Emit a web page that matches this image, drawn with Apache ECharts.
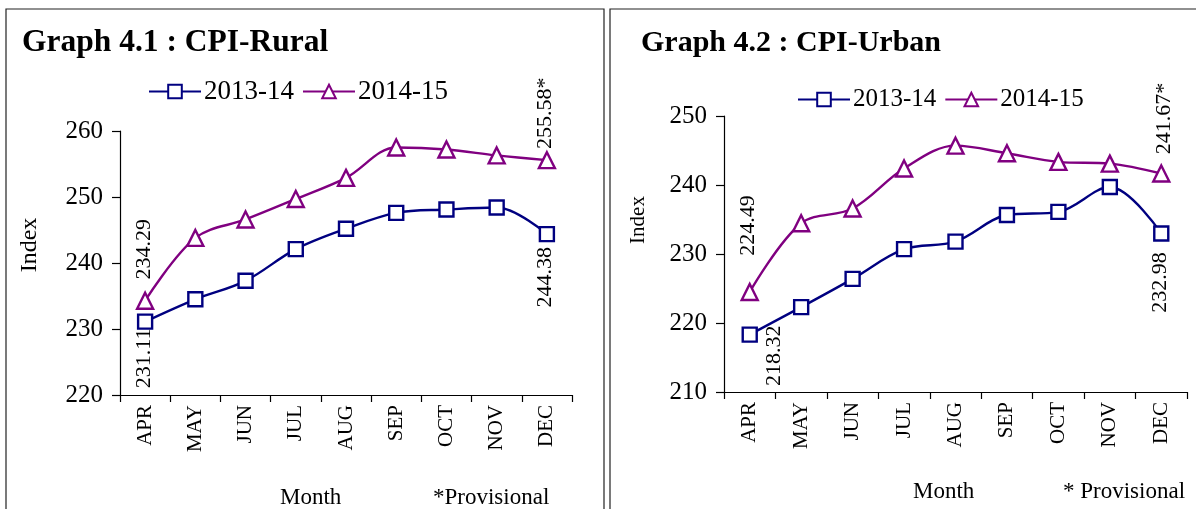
<!DOCTYPE html>
<html>
<head>
<meta charset="utf-8">
<title>CPI Rural / Urban</title>
<script src="https://cdn.jsdelivr.net/npm/echarts@6/dist/echarts.min.js"></script>
<style>
  html, body { margin: 0; padding: 0; background: #fff; }
  #main { width: 1196px; height: 509px; }
</style>
</head>
<body>
<div id="main"></div>
<script>
// data
var months = ['APR', 'MAY', 'JUN', 'JUL', 'AUG', 'SEP', 'OCT', 'NOV', 'DEC'];
var seriesNames = ['2013-14', '2014-15'];

var rural1314 = [231.11, 234.5, 237.3, 242.1, 245.2, 247.6, 248.1, 248.4, 244.38];
var rural1415 = [234.29, 243.8, 246.6, 249.7, 252.9, 257.5, 257.2, 256.3, 255.58];
var urban1314 = [218.32, 222.3, 226.4, 230.7, 231.8, 235.65, 236.1, 239.7, 232.98];
var urban1415 = [224.49, 234.45, 236.6, 242.4, 245.7, 244.6, 243.35, 243.1, 241.67];

var ruralTicks = { min: 220, max: 260, step: 10 };
var urbanTicks = { min: 210, max: 250, step: 10 };

var NAVY = '#000080';
var PURPLE = '#800080';
var FONT = '"Liberation Serif", "Times New Roman", serif';
var SQ = 14;   // square marker size
var TRI = 16;  // triangle marker size

// rotated value label placed relative to the point (dx, dy in px)
function valLabel(half, dx, dy, up, fmt) {
    return {
        show: true,
        position: [half + dx, half + dy],
        rotate: 90,
        align: up ? 'left' : 'right',
        verticalAlign: 'middle',
        formatter: fmt || '{c}',
        color: '#000',
        fontFamily: FONT,
        fontSize: 22
    };
}

// attach labels to chosen points
function points(values, labels) {
    return values.map(function (v, i) {
        if (labels[i]) return { value: v, label: labels[i] };
        return v;
    });
}

function lineSeries(name, values, color, symbol, axisIdx, labels) {
    return {
        name: name,
        type: 'line',
        xAxisIndex: axisIdx,
        yAxisIndex: axisIdx,
        data: points(values, labels),
        smooth: 0.35,
        symbol: symbol,
        symbolSize: symbol === 'triangle' ? TRI : SQ,
        lineStyle: { color: color, width: 2.4 },
        itemStyle: { color: '#fff', borderColor: color, borderWidth: 2.4 },
        label: { show: false },
        emphasis: { disabled: true },
        z: 3
    };
}

function catAxis(gridIdx) {
    return {
        type: 'category',
        gridIndex: gridIdx,
        data: months,
        boundaryGap: true,
        axisLine: { show: true, lineStyle: { color: '#000', width: 1.2 } },
        axisTick: { show: true, length: 7, lineStyle: { color: '#000', width: 1.2 } },
        axisLabel: { rotate: 90, margin: 10, color: '#000', fontFamily: FONT, fontSize: 21 }
    };
}

function valAxis(gridIdx, t) {
    return {
        type: 'value',
        gridIndex: gridIdx,
        min: t.min,
        max: t.max,
        interval: t.step,
        splitLine: { show: false },
        axisLine: { show: true, lineStyle: { color: '#000', width: 1.2 } },
        axisTick: { show: true, length: 8, lineStyle: { color: '#000', width: 1.2 } },
        axisLabel: { margin: 17, color: '#000', fontFamily: FONT, fontSize: 25 }
    };
}

function legendAt(left, top, size) {
    return {
        data: seriesNames,
        left: left,
        top: top,
        itemWidth: 52,
        itemHeight: 17,
        itemGap: 8,
        padding: 0,
        selectedMode: false,
        textStyle: { color: '#000', fontFamily: FONT, fontSize: size, padding: [0, 0, 0, -2] }
    };
}

function plainText(text, left, top, size, bold) {
    return {
        text: text,
        left: left,
        top: top,
        padding: 0,
        textStyle: { color: '#000', fontFamily: FONT, fontSize: size, fontWeight: bold ? 'bold' : 'normal' }
    };
}

var myChart = echarts.init(document.getElementById('main'), null, { renderer: 'canvas' });

myChart.setOption({
    backgroundColor: '#fff',
    animation: false,
    title: [
        plainText('Graph 4.1 : CPI-Rural', 22, 27, 31.5, true),
        plainText('Graph 4.2 : CPI-Urban', 641, 28, 30, true),
        plainText('Month', 280, 486, 23),
        plainText('*Provisional', 433, 486, 23),
        plainText('Month', 913, 480, 23),
        plainText('* Provisional', 1063, 480, 23)
    ],
    legend: [
        legendAt(148, 78, 27),
        legendAt(797, 87, 25)
    ],
    grid: [
        { left: 120, top: 131, width: 452, height: 264 },
        { left: 724, top: 116, width: 463, height: 276 }
    ],
    xAxis: [catAxis(0), catAxis(1)],
    yAxis: [valAxis(0, ruralTicks), valAxis(1, urbanTicks)],
    series: [
        lineSeries(seriesNames[0], rural1314, NAVY, 'rect', 0, {
            0: valLabel(SQ / 2, 0, 8, false),
            8: valLabel(SQ / 2, 0, 14, false)
        }),
        lineSeries(seriesNames[1], rural1415, PURPLE, 'triangle', 0, {
            0: valLabel(TRI / 2, 0, -20, true),
            8: valLabel(TRI / 2, 0, -10, true, '{c}*')
        }),
        lineSeries(seriesNames[0], urban1314, NAVY, 'rect', 1, {
            0: valLabel(SQ / 2, 26, -8, false),
            8: valLabel(SQ / 2, 0, 20, false)
        }),
        lineSeries(seriesNames[1], urban1415, PURPLE, 'triangle', 1, {
            0: valLabel(TRI / 2, 0, -35, true),
            8: valLabel(TRI / 2, 4, -18, true, '{c}*')
        })
    ],
    graphic: [
        // panel frames
        { type: 'rect', shape: { x: 6, y: 9, width: 598, height: 540 }, style: { fill: 'none', stroke: '#222', lineWidth: 1.2 }, silent: true },
        { type: 'rect', shape: { x: 610, y: 9, width: 620, height: 540 }, style: { fill: 'none', stroke: '#222', lineWidth: 1.2 }, silent: true },
        // y axis names
        { type: 'text', x: 30, y: 245, rotation: Math.PI / 2, style: { text: 'Index', font: '24px ' + FONT, fill: '#000', align: 'center', verticalAlign: 'middle' }, silent: true },
        { type: 'text', x: 638, y: 220, rotation: Math.PI / 2, style: { text: 'Index', font: '21px ' + FONT, fill: '#000', align: 'center', verticalAlign: 'middle' }, silent: true }
    ]
});
</script>
</body>
</html>
